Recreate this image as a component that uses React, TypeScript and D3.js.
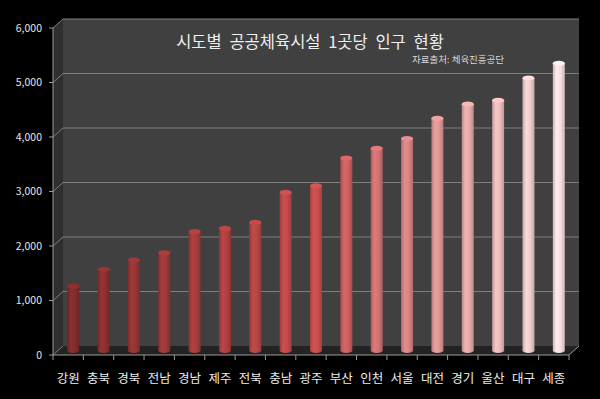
import React, { useEffect } from 'react';
import * as d3 from 'd3';

// 시도별 공공체육시설 1곳당 인구 (명)
const regions = ['강원', '충북', '경북', '전남', '경남', '제주', '전북', '충남', '광주', '부산', '인천', '서울', '대전', '경기', '울산', '대구', '세종'];
const people = [1180, 1490, 1660, 1790, 2180, 2240, 2350, 2900, 3020, 3530, 3710, 3890, 4260, 4520, 4590, 5000, 5270];
const yTicks = [0, 1000, 2000, 3000, 4000, 5000, 6000];

const title = '시도별 공공체육시설 1곳당 인구 현황';
const source = '자료출처: 체육진흥공단';

const W = 600;
const H = 399;
const FONT = '"Noto Sans CJK KR", "Noto Sans", sans-serif';

const App: React.FC = () => {
    useEffect(() => {
        document.body.style.margin = '0';
        document.body.style.background = '#000';
    }, []);

    // front plane of the 3D box
    const frontLeft = 53;
    const frontRight = 569;
    const dx = 10;   // depth offset
    const dy = -9;

    const y = d3.scaleLinear().domain([0, 6000]).range([355, 28]);
    const x = d3.scaleBand().domain(regions).range([frontLeft, frontRight]).paddingInner(0).paddingOuter(0);

    const color = d3.scaleLinear<string>()
        .domain([0, 8, 16])
        .range(['#862c2c', '#c84f4e', '#f6e0e0'])
        .interpolate(d3.interpolateRgb);

    const barW = 12;
    const capRy = 2.6;
    const fmt = d3.format(',');

    const backTop = y(6000) + dy;
    const backBottom = y(0) + dy;

    return (
        <svg width={W} height={H} style={{ display: 'block', background: '#000', fontFamily: FONT }}>
            <defs>
                {people.map((_, i) => {
                    const c = d3.color(color(i))!;
                    const dark = c.darker(0.6).formatHex();
                    const mid = c.formatHex();
                    const light = c.brighter(0.15).formatHex();
                    return (
                        <linearGradient key={i} id={`cyl${i}`} x1="0" x2="1" y1="0" y2="0">
                            <stop offset="0%" stopColor={dark} />
                            <stop offset="30%" stopColor={light} />
                            <stop offset="65%" stopColor={mid} />
                            <stop offset="100%" stopColor={dark} />
                        </linearGradient>
                    );
                })}
            </defs>

            {/* side wall */}
            <polygon
                points={`${frontLeft},${y(6000)} ${frontLeft + dx},${backTop} ${frontLeft + dx},${backBottom} ${frontLeft},${y(0)}`}
                fill="#2f2f2f"
            />
            {/* back wall */}
            <rect x={frontLeft + dx} y={backTop} width={frontRight - frontLeft} height={backBottom - backTop} fill="#404040" />
            {/* floor */}
            <polygon
                points={`${frontLeft},${y(0)} ${frontLeft + dx},${backBottom} ${frontRight + dx},${backBottom} ${frontRight},${y(0)}`}
                fill="#232323"
            />

            {/* gridlines on back wall and side wall */}
            {yTicks.map(t => (
                <g key={t}>
                    {t > 0 && (
                        <line x1={frontLeft + dx} x2={frontRight + dx} y1={y(t) + dy} y2={y(t) + dy} stroke="#7e7e7e" strokeWidth={1.2} />
                    )}
                    <line x1={frontLeft} x2={frontLeft + dx} y1={y(t)} y2={y(t) + dy} stroke="#7e7e7e" strokeWidth={1} />
                    <line x1={frontLeft - 4} x2={frontLeft} y1={y(t)} y2={y(t)} stroke="#9a9a9a" strokeWidth={1} />
                    <text x={42} y={y(t)} dy="0.35em" textAnchor="end" fontSize={10.5} fill="#e6e6e6">
                        {fmt(t)}
                    </text>
                </g>
            ))}

            {/* axis lines */}
            <line x1={frontLeft} x2={frontLeft} y1={y(6000)} y2={y(0)} stroke="#9a9a9a" strokeWidth={1} />
            <line x1={frontLeft} x2={frontRight} y1={y(0)} y2={y(0)} stroke="#9a9a9a" strokeWidth={1} />
            <line x1={frontRight} x2={frontRight + dx} y1={y(0)} y2={backBottom} stroke="#9a9a9a" strokeWidth={1} />
            {[...regions.map(r => x(r)!), frontRight].map((tx, i) => (
                <line key={i} x1={tx} x2={tx} y1={y(0)} y2={y(0) + 5} stroke="#9a9a9a" strokeWidth={1} />
            ))}

            {/* cylinders */}
            {regions.map((r, i) => {
                const cx = x(r)! + x.bandwidth() / 2 + dx / 2;
                const top = y(people[i]) + dy / 2;
                const bottom = y(0) + dy / 2;
                const c = d3.color(color(i))!;
                return (
                    <g key={r}>
                        <ellipse cx={cx} cy={bottom} rx={barW / 2} ry={capRy} fill={`url(#cyl${i})`} />
                        <rect x={cx - barW / 2} y={top} width={barW} height={bottom - top} fill={`url(#cyl${i})`} />
                        <ellipse cx={cx} cy={top} rx={barW / 2} ry={capRy} fill={c.brighter(0.2).formatHex()} />
                    </g>
                );
            })}

            {/* category labels */}
            {regions.map(r => (
                <text key={r} x={x(r)! + x.bandwidth() / 2} y={383} textAnchor="middle" fontSize={12.5} fill="#ededed">
                    {r}
                </text>
            ))}

            {/* title */}
            <text x={310} y={48} textAnchor="middle" fontSize={16.5} wordSpacing={4} fill="#eeeeee">{title}</text>
            <text x={458} y={63} textAnchor="middle" fontSize={9.5} fill="#d8d8d8">{source}</text>
        </svg>
    );
};

export default App;
